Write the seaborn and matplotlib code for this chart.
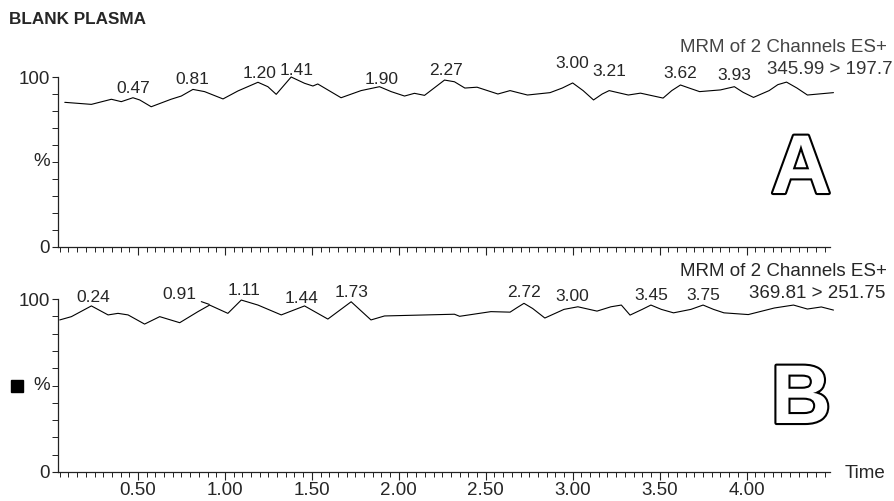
import numpy as np
import pandas as pd
import matplotlib
matplotlib.use("Agg")
import matplotlib.pyplot as plt
import matplotlib.patheffects as pe
from matplotlib.patches import Rectangle
from matplotlib.ticker import MultipleLocator, FixedLocator, FormatStrFormatter
import seaborn as sns

# ---------------- data ----------------
time_a = [0.079, 0.232, 0.347, 0.404, 0.471, 0.51, 0.576, 0.69, 0.749, 0.816, 0.883,
          0.989, 1.075, 1.19, 1.247, 1.295, 1.381, 1.458, 1.506, 1.534, 1.668, 1.783,
          1.889, 1.956, 2.033, 2.09, 2.148, 2.263, 2.32, 2.38, 2.45, 2.57, 2.64, 2.74,
          2.87, 2.94, 3.00, 3.06, 3.12, 3.17, 3.21, 3.32, 3.39, 3.52, 3.57, 3.62, 3.67,
          3.73, 3.85, 3.93, 3.98, 4.04, 4.13, 4.18, 4.23, 4.29, 4.35, 4.50]
inten_a = [85.1, 83.9, 86.9, 85.5, 87.8, 86.5, 82.5, 86.9, 88.8, 92.7, 91.4,
           87.1, 91.8, 96.9, 94.3, 89.8, 100.0, 96.3, 94.7, 95.9, 87.8, 92.0,
           94.3, 91.4, 88.8, 90.4, 89.2, 98.2, 97.2, 93.5, 94.0, 90.0, 92.0, 89.4,
           90.8, 93.5, 96.5, 92.0, 86.5, 90.0, 92.0, 89.4, 90.5, 87.6, 92.0, 95.3, 93.5,
           91.4, 92.4, 94.3, 91.0, 88.0, 92.0, 95.5, 97.0, 93.5, 89.4, 90.8]
peaks_a = ["0.47", "0.81", "1.20", "1.41", "1.90", "2.27", "3.00", "3.21", "3.62", "3.93"]

time_b = [0.05, 0.117, 0.232, 0.328, 0.385, 0.443, 0.538, 0.625, 0.74, 0.845, 0.912,
          1.017, 1.094, 1.19, 1.324, 1.458, 1.592, 1.726, 1.84, 1.918, 2.32, 2.35,
          2.53, 2.64, 2.68, 2.72, 2.77, 2.84, 2.95, 3.03, 3.14, 3.22, 3.28, 3.33,
          3.40, 3.45, 3.51, 3.58, 3.68, 3.75, 3.81, 3.87, 4.01, 4.16, 4.27, 4.35,
          4.43, 4.50]
inten_b = [87.9, 89.8, 96.0, 90.8, 91.7, 90.8, 85.5, 89.8, 86.3, 92.7, 96.5,
           91.7, 99.4, 96.5, 90.8, 96.0, 88.4, 98.4, 87.9, 90.2, 91.2, 90.0,
           92.7, 92.4, 95.0, 97.5, 94.5, 89.0, 94.0, 95.5, 93.0, 95.5, 96.5, 90.7,
           94.0, 96.5, 94.0, 92.0, 94.0, 96.5, 94.0, 92.0, 91.0, 94.8, 96.5, 94.2,
           95.4, 93.6]
peaks_b = ["0.24", "0.91", "1.11", "1.44", "1.73", "2.72", "3.00", "3.45", "3.75"]

x_ticks = [0.50, 1.00, 1.50, 2.00, 2.50, 3.00, 3.50, 4.00]

title = "BLANK PLASMA"
header = "MRM of 2 Channels ES+"
trans_a = "345.99 > 197.7"
trans_b = "369.81 > 251.75"

# ---------------- layout (label offsets, in data units above the peak) ----------------
off_a = [5.7, 6.0, 5.5, 5.3, 4.6, 5.5, 11.7, 11.0, 7.0, 6.8]
off_b = [5.4, 6.4, 6.2, 5.2, 5.6, 6.0, 6.7, 5.8, 5.8]

sns.set_theme(style="ticks")
plt.rcParams["font.family"] = ["Liberation Sans", "DejaVu Sans"]

W, H = 895, 501
fig = plt.figure(figsize=(W / 100, H / 100), dpi=100)

def px_axes(left, right, top, bottom):
    return fig.add_axes([left / W, 1 - bottom / H, (right - left) / W, (bottom - top) / H])

ax_a = px_axes(58, 830, 77, 247)
ax_b = px_axes(58, 830, 299, 472)

def style(ax, show_labels):
    ax.set_xlim(0.04, 4.48)
    ax.set_ylim(0, 100)
    for s in ["top", "right"]:
        ax.spines[s].set_visible(False)
    for s in ["left", "bottom"]:
        ax.spines[s].set_linewidth(0.9)
        ax.spines[s].set_color("#222222")
    ax.xaxis.set_major_locator(FixedLocator(x_ticks))
    ax.xaxis.set_minor_locator(MultipleLocator(0.05))
    ax.xaxis.set_major_formatter(FormatStrFormatter("%.2f"))
    ax.yaxis.set_major_locator(FixedLocator([0, 100]))
    ax.yaxis.set_minor_locator(MultipleLocator(10))
    ax.tick_params(axis="x", which="major", length=6, width=0.8, direction="out",
                   labelsize=13.5, pad=1.5, labelbottom=show_labels, color="#222222")
    ax.tick_params(axis="x", which="minor", length=3.5, width=0.7, direction="out", color="#222222")
    ax.tick_params(axis="y", which="major", length=4, width=0.8, direction="out",
                   labelsize=13.5, pad=2, color="#222222")
    ax.tick_params(axis="y", which="minor", length=4, width=0.7, direction="out", color="#222222")
    ax.set_xlabel("")
    ax.set_ylabel("%", rotation=0, fontsize=13.5, ha="right", va="center")
    ax.yaxis.set_label_coords(-0.0104, 0.5)

df_a = pd.DataFrame({"Time": time_a, "Intensity": inten_a})
df_b = pd.DataFrame({"Time": time_b, "Intensity": inten_b})

sns.lineplot(data=df_a, x="Time", y="Intensity", ax=ax_a, color="black", lw=0.8,
             estimator=None, sort=False, clip_on=False)
sns.lineplot(data=df_b, x="Time", y="Intensity", ax=ax_b, color="black", lw=0.8,
             estimator=None, sort=False, clip_on=False)
style(ax_a, False)
style(ax_b, True)

def label_peaks(ax, peaks, offs, t, v):
    for lab, off in zip(peaks, offs):
        pt = float(lab)
        pv = np.interp(pt, t, v)
        if ax is ax_b and lab == "0.91":
            ax.annotate(lab, xy=(pt, pv + 0.5), xytext=(pt - 0.17, pv + off),
                        ha="center", va="center", fontsize=12.5,
                        arrowprops=dict(arrowstyle="-", lw=0.8, color="black",
                                        shrinkA=1, shrinkB=0),
                        annotation_clip=False)
        else:
            ax.text(pt, pv + off, lab, ha="center", va="center", fontsize=12.5, clip_on=False)

label_peaks(ax_a, peaks_a, off_a, time_a, inten_a)
label_peaks(ax_b, peaks_b, off_b, time_b, inten_b)

# headers
fig.text(9 / W, 1 - 20 / H, title, fontsize=12.3, fontweight="bold", ha="left", va="center")
fig.text(887 / W, 1 - 47 / H, header, fontsize=13.5, ha="right", va="center", color="#444444")
fig.text(893 / W, 1 - 70 / H, trans_a, fontsize=13.5, ha="right", va="center", color="#333333")
fig.text(887 / W, 1 - 272 / H, header, fontsize=13.5, ha="right", va="center")
fig.text(885 / W, 1 - 293 / H, trans_b, fontsize=13.5, ha="right", va="center")
fig.text(845 / W, 1 - 474 / H, "Time", fontsize=13.5, ha="left", va="center")

# big outlined panel letters
for letter, yb in [("A", 193), ("B", 423)]:
    fig.text(801 / W, 1 - yb / H, letter, fontsize=60, fontweight="bold", color="white",
             ha="center", va="baseline",
             path_effects=[pe.Stroke(linewidth=3, foreground="black"), pe.Normal()])

# small black square next to panel B's % label
fig.add_artist(Rectangle((11 / W, 1 - 392 / H), 12 / W, 12 / H,
                         transform=fig.transFigure, color="black"))

fig.savefig("out.png", dpi=100)
